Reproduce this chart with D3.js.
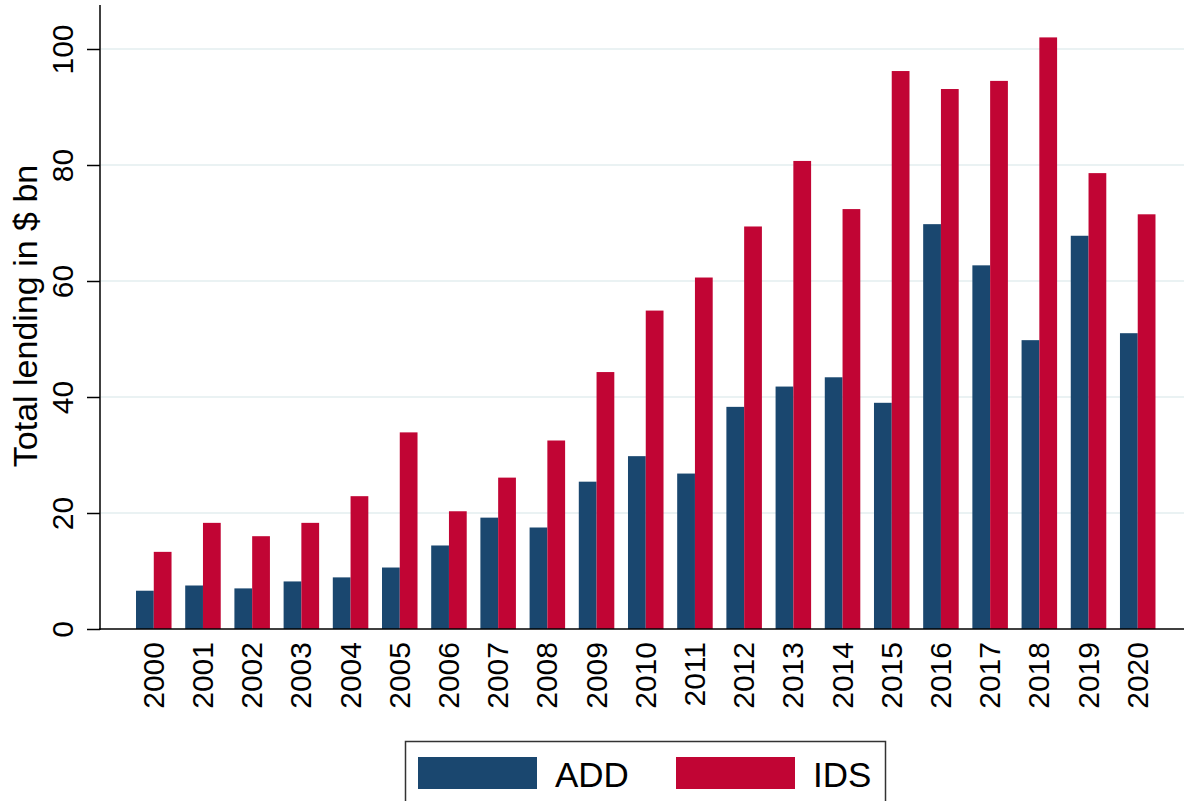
<!DOCTYPE html>
<html lang="en">
<head>
	<title>Total lending</title>
	<meta charset="utf-8">
	<script src="https://d3js.org/d3.v7.min.js"></script>
	<style>
	body {margin: 0; background: #ffffff;}
	svg text {font-family: "Liberation Sans", Arial, sans-serif; fill: #000000;}
	</style>
</head>
<body>
	<div id="chart"></div>
<script>

// Data
var years = ["2000", "2001", "2002", "2003", "2004", "2005", "2006", "2007", "2008", "2009", "2010",
	"2011", "2012", "2013", "2014", "2015", "2016", "2017", "2018", "2019", "2020"];
var seriesNames = ["ADD", "IDS"];
var addValues = [6.6, 7.5, 7.0, 8.2, 8.9, 10.6, 14.4, 19.2, 17.5, 25.4, 29.8,
	26.8, 38.3, 41.8, 43.4, 39.0, 69.8, 62.7, 49.8, 67.8, 51.0];
var idsValues = [13.3, 18.3, 16.0, 18.3, 22.9, 33.9, 20.3, 26.1, 32.5, 44.3, 54.9,
	60.6, 69.4, 80.7, 72.4, 96.2, 93.1, 94.5, 102.0, 78.6, 71.5];
var yTicks = [0, 20, 40, 60, 80, 100];
var yLabel = "Total lending in $ bn";

var colors = {ADD: "#1a476f", IDS: "#c10534"};

// Table for drawing
var rows = years.map(function(y, i) {
	return {year: y, ADD: addValues[i], IDS: idsValues[i]};
});

var width = 1184;
var height = 801;

var svg = d3.select("#chart").append("svg")
	.attr("width", width)
	.attr("height", height);

// Scales
var yScale = d3.scaleLinear()
	.domain([0, 100])
	.range([629, 49]);

var xScale = d3.scaleBand()
	.domain(years)
	.range([118.3, 1173.2])
	.paddingInner(0.278)
	.paddingOuter(0.36);

var xInner = d3.scaleBand()
	.domain(seriesNames)
	.range([0, xScale.bandwidth()]);

// Gridlines
svg.append("g")
	.selectAll("line")
	.data(yTicks.filter(function(d){return d > 0;}))
	.enter()
	.append("line")
		.attr("x1", 101)
		.attr("x2", 1184)
		.attr("y1", function(d){return yScale(d);})
		.attr("y2", function(d){return yScale(d);})
		.attr("stroke", "#eaf2f3")
		.attr("stroke-width", 2);

// Bars
var groups = svg.append("g")
	.selectAll("g")
	.data(rows)
	.enter()
	.append("g")
		.attr("transform", function(d){return "translate(" + xScale(d.year) + ",0)";});

groups.selectAll("rect")
	.data(function(d){return seriesNames.map(function(s){return {key: s, value: d[s]};});})
	.enter()
	.append("rect")
		.attr("x", function(d){return xInner(d.key);})
		.attr("y", function(d){return yScale(d.value);})
		.attr("width", xInner.bandwidth())
		.attr("height", function(d){return yScale(0) - yScale(d.value);})
		.attr("fill", function(d){return colors[d.key];});

// Y axis
var yAxis = d3.axisLeft(yScale)
	.tickValues(yTicks)
	.tickSize(13)
	.tickPadding(0)
	.tickFormat(d3.format("d"));

var gy = svg.append("g")
	.attr("transform", "translate(100,0)")
	.call(yAxis);
gy.select(".domain").remove();
gy.selectAll(".tick line").attr("stroke", "#000").attr("stroke-width", 1.5);
gy.selectAll(".tick text")
	.attr("x", null).attr("dy", null)
	.attr("transform", "translate(-27,0) rotate(-90)")
	.attr("text-anchor", "middle")
	.style("font-size", "30px");

svg.append("line")
	.attr("x1", 100).attr("x2", 100)
	.attr("y1", 5).attr("y2", 630)
	.attr("stroke", "#000").attr("stroke-width", 1.5);

// X axis
var xAxis = d3.axisBottom(xScale)
	.tickSize(0)
	.tickPadding(0);

var gx = svg.append("g")
	.attr("transform", "translate(0,629)")
	.call(xAxis);
gx.select(".domain").remove();
gx.selectAll(".tick text")
	.attr("y", null).attr("dy", null)
	.attr("transform", "translate(10,13) rotate(-90)")
	.attr("text-anchor", "end")
	.style("font-size", "30px");

svg.append("line")
	.attr("x1", 99).attr("x2", 1184)
	.attr("y1", 629).attr("y2", 629)
	.attr("stroke", "#000").attr("stroke-width", 1.5);

// Y label
svg.append("text")
	.attr("transform", "translate(37,316) rotate(-90)")
	.attr("text-anchor", "middle")
	.style("font-size", "34px")
	.text(yLabel);

// Legend
var legend = svg.append("g");
legend.append("rect")
	.attr("x", 405.5).attr("y", 741.5)
	.attr("width", 480).attr("height", 80)
	.attr("fill", "#fff")
	.attr("stroke", "#333").attr("stroke-width", 1.5);

var legendItems = legend.selectAll("g.item")
	.data(seriesNames)
	.enter()
	.append("g")
		.attr("class", "item")
		.attr("transform", function(d, i){return "translate(" + (418 + i * 258) + ",0)";});

legendItems.append("rect")
	.attr("x", 0).attr("y", 757)
	.attr("width", 119).attr("height", 32)
	.attr("fill", function(d){return colors[d];});

legendItems.append("text")
	.attr("x", 137).attr("y", 786.5)
	.style("font-size", "35px")
	.text(function(d){return d;});

</script>
</body>
</html>
